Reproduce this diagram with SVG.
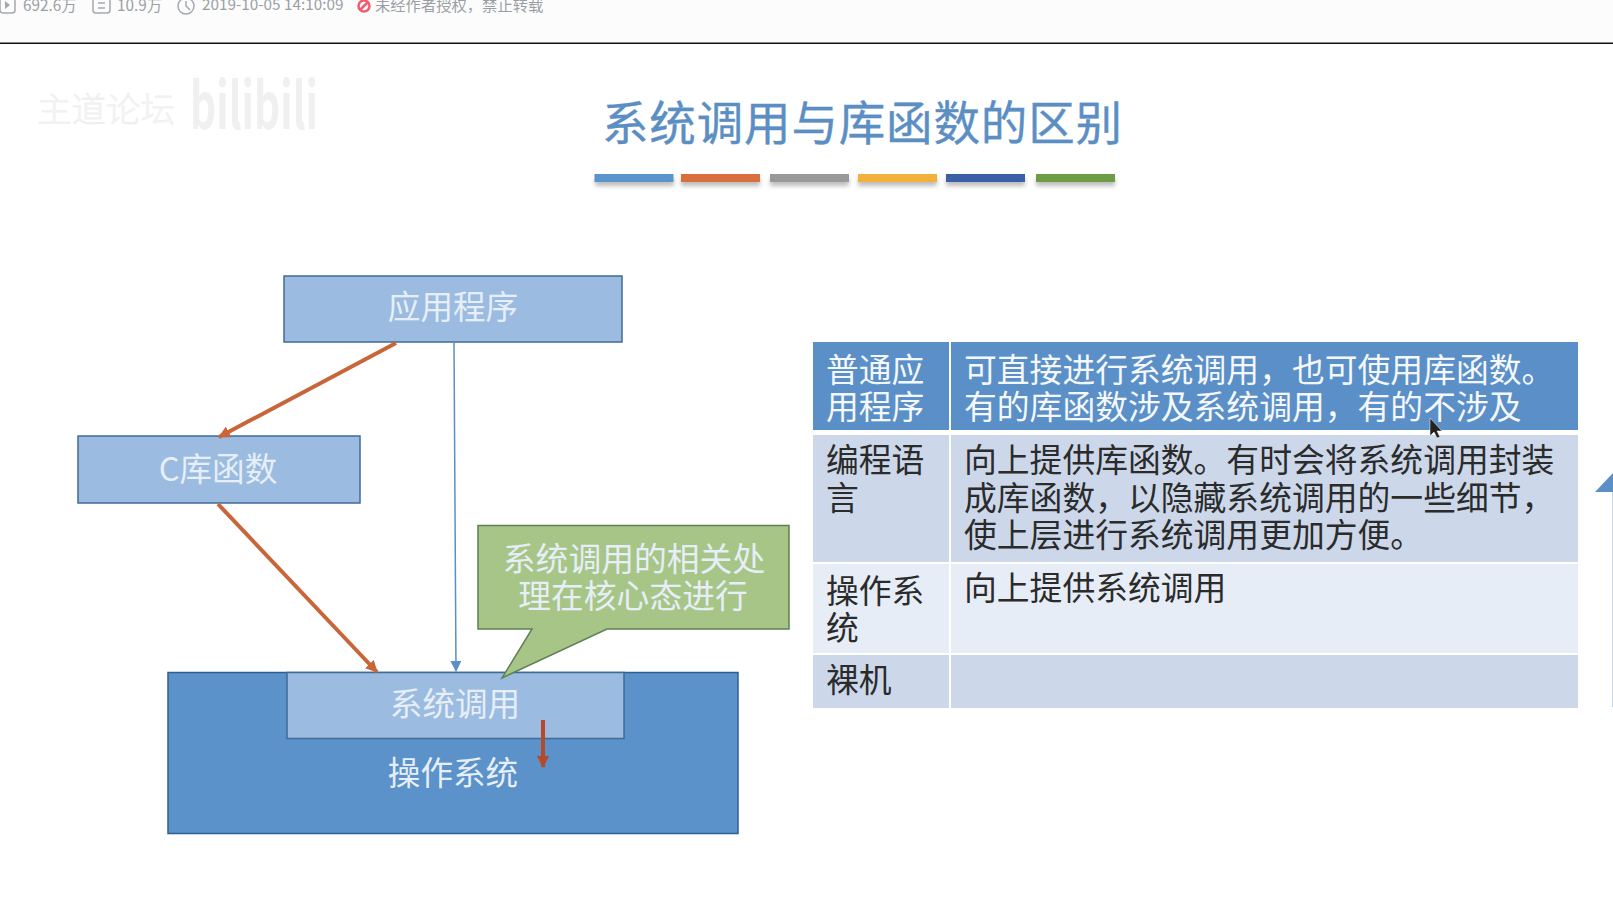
<svg xmlns="http://www.w3.org/2000/svg" width="1613" height="919" viewBox="0 0 1613 919">
<defs>
<marker id="ao" markerWidth="12" markerHeight="12" refX="11" refY="6" orient="auto" markerUnits="userSpaceOnUse"><path d="M0 0L12 6L0 12z" fill="#c8663a"/></marker>
<marker id="ab" markerWidth="11" markerHeight="11" refX="10" refY="5.5" orient="auto" markerUnits="userSpaceOnUse"><path d="M0 0L11 5.5L0 11z" fill="#5b8fc7"/></marker>
<marker id="ar" markerWidth="12" markerHeight="12" refX="11" refY="6" orient="auto" markerUnits="userSpaceOnUse"><path d="M0 0L12 6L0 12z" fill="#b5492a"/></marker>
<filter id="sh" x="-5%" y="-50%" width="110%" height="250%"><feGaussianBlur stdDeviation="2"/></filter>
</defs>
<style>
text{font-family:"Noto Sans CJK SC","Liberation Sans",sans-serif}
.box{fill:#9bbce0;stroke:#3f6b98;stroke-width:1.5}
.wt{fill:#e6eef7;font-size:32.6px;text-anchor:middle}
.tt{fill:#f4f8fc;font-size:32.8px}
.dt{fill:#2b2b2b;font-size:32.8px}
.meta{fill:#9a9fa6;font-size:15.3px}
</style>
<rect width="1613" height="919" fill="#fff"/>
<g id="topbar">
<rect width="1613" height="43" fill="#fcfcfc"/>
<rect y="42.5" width="1613" height="1.5" fill="#111"/>
<rect x="0" y="-3" width="15" height="16" rx="3" fill="none" stroke="#a4a8ae" stroke-width="1.5"/>
<path d="M5 1L10 5L5 9z" fill="#a4a8ae"/>
<text class="meta" x="23" y="11">692.6万</text>
<rect x="93" y="-3" width="17" height="16" rx="3" fill="none" stroke="#a4a8ae" stroke-width="1.5"/>
<path d="M98 3H105M98 8H105" stroke="#a4a8ae" stroke-width="1.5"/>
<text class="meta" x="117" y="11">10.9万</text>
<circle cx="186" cy="6" r="8" fill="none" stroke="#a4a8ae" stroke-width="1.5"/>
<path d="M186 1V6L190 10" fill="none" stroke="#a4a8ae" stroke-width="1.5"/>
<text class="meta" x="202" y="10">2019-10-05 14:10:09</text>
<circle cx="364" cy="6" r="5.5" fill="none" stroke="#f25d6e" stroke-width="2.5"/>
<path d="M360 10L368 2" stroke="#f25d6e" stroke-width="2.5"/>
<text class="meta" x="375" y="11">未经作者授权，禁止转载</text>
</g>
<g id="watermark" fill="#f0f0f0">
<text x="37" y="122" font-size="34.5" font-weight="300" fill="#f6f6f6" stroke="#e8e8e8" stroke-width=".4">主道论坛</text>
<text x="190" y="129" font-size="64" font-weight="700" font-family="Liberation Sans,sans-serif" textLength="128" lengthAdjust="spacingAndGlyphs">bilibili</text>
</g>
<g id="title">
<text x="862" y="140" font-size="46.5" fill="#5b8fc4" stroke="#5b8fc4" stroke-width=".4" text-anchor="middle" textLength="520">系统调用与库函数的区别</text>
<g filter="url(#sh)" fill="#888" opacity=".55">
<rect x="595" y="178" width="79" height="8"/><rect x="681" y="178" width="79" height="8"/><rect x="770" y="178" width="79" height="8"/><rect x="858" y="178" width="79" height="8"/><rect x="946" y="178" width="79" height="8"/><rect x="1036" y="178" width="79" height="8"/>
</g>
<rect x="594.5" y="174" width="79" height="8" fill="#5b93cd"/>
<rect x="681" y="174" width="79" height="8" fill="#d9703c"/>
<rect x="770" y="174" width="79" height="8" fill="#999"/>
<rect x="858" y="174" width="79" height="8" fill="#f2b13c"/>
<rect x="946" y="174" width="79" height="8" fill="#3a60a8"/>
<rect x="1036" y="174" width="79" height="8" fill="#6d9b46"/>
</g>
<g id="os"><rect x="168" y="672.5" width="570" height="161" fill="#5b92c9" stroke="#2f5f90" stroke-width="1.5"/><text class="wt" x="453" y="785">操作系统</text></g>
<g id="app"><rect class="box" x="284" y="276" width="338" height="66"/><text class="wt" x="453" y="319">应用程序</text></g>
<g id="clib"><rect class="box" x="78" y="436" width="282" height="67"/><text class="wt" x="218" y="481">C库函数</text></g>
<g id="syscall"><rect class="box" x="287" y="672.5" width="337" height="66"/><text class="wt" x="455" y="716">系统调用</text></g>
<g id="callout"><path d="M478 525.5H789V629H607L502 678L532 629H478z" fill="#a8c588" stroke="#5f7f55" stroke-width="1.5"/>
<text class="wt" x="634" y="571" style="font-size:32.8px">系统调用的相关处</text><text class="wt" x="633" y="608" style="font-size:32.8px">理在核心态进行</text></g>
<g id="connectors" fill="none">
<path d="M396 343L219 437" stroke="#c8663a" stroke-width="4" marker-end="url(#ao)"/>
<path d="M218 504L377 672" stroke="#c8663a" stroke-width="4" marker-end="url(#ao)"/>
<path d="M454 343L456 671" stroke="#5b8fc7" stroke-width="1.5" marker-end="url(#ab)"/>
<path d="M543 720V767" stroke="#b5492a" stroke-width="4" marker-end="url(#ar)"/>
</g>
<g id="table">
<rect x="813" y="342" width="765" height="88" fill="#5b8fc7"/>
<rect x="813" y="435" width="765" height="127" fill="#ccd8ea"/>
<rect x="813" y="564" width="765" height="89" fill="#e7edf6"/>
<rect x="813" y="655" width="765" height="53" fill="#ccd8ea"/>
<rect x="949" y="342" width="2" height="366" fill="#fff"/>
<text class="tt"><tspan x="826" y="382">普通应</tspan><tspan x="826" y="419">用程序</tspan></text>
<text class="tt"><tspan x="964" y="382">可直接进行系统调用，也可使用库函数。</tspan><tspan x="964" y="419">有的库函数涉及系统调用，有的不涉及</tspan></text>
<text class="dt"><tspan x="826" y="472">编程语</tspan><tspan x="826" y="510">言</tspan></text>
<text class="dt"><tspan x="964" y="472">向上提供库函数。有时会将系统调用封装</tspan><tspan x="964" y="510">成库函数，以隐藏系统调用的一些细节，</tspan><tspan x="964" y="547">使上层进行系统调用更加方便。</tspan></text>
<text class="dt"><tspan x="826" y="603">操作系</tspan><tspan x="826" y="640">统</tspan></text>
<text class="dt" x="964" y="600">向上提供系统调用</text>
<text class="dt" x="826" y="692">裸机</text>
</g>
<g id="edge"><path d="M1595 492L1613 473V492z" fill="#5b8fc7"/><rect x="1612" y="492" width="1" height="215" fill="#c5d9ee"/></g>
<path id="cursor" d="M1430 418V436L1434 432L1437 438L1440 437L1437 431L1442 431z" fill="#222" stroke="#fff" stroke-width=".5"/>
</svg>
